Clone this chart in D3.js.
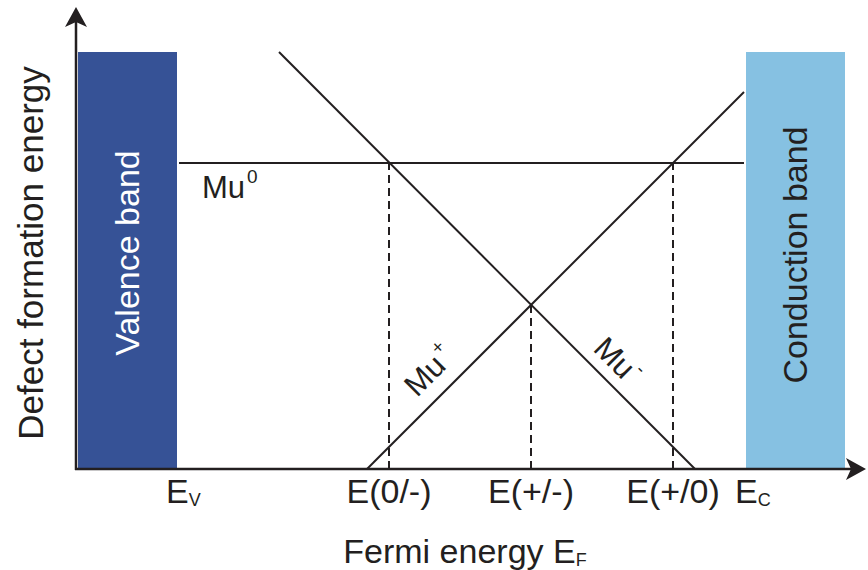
<!DOCTYPE html>
<html>
<head>
<meta charset="utf-8">
<script src="https://cdn.jsdelivr.net/npm/d3@7"></script>
<style>
  html, body { margin: 0; padding: 0; background: #fff; }
  svg { display: block; font-family: "Liberation Sans", Arial, Helvetica, sans-serif; }
</style>
</head>
<body>
<svg id="chart" width="868" height="570"></svg>
<script>
// Energies in arbitrary units; Fermi level measured from the valence band maximum.
const bandNames = ["Valence band", "Conduction band"];
const bandFrom  = [-0.99, 5.69];
const bandTo    = [0.00, 6.68];
const bandTop   = 4.17;

// Formation-energy lines of the muonium charge states (start / end points).
const stateNames = ["Mu", "Mu", "Mu"];
const stateSup   = ["0", "+", "-"];
const stateEF    = [[0.02, 5.67], [1.90, 5.67], [1.02, 5.18]];
const stateE     = [[3.06, 3.06], [0.00, 3.77], [4.17, 0.00]];

// Charge transition levels (crossings of the lines above).
const levelNames = ["E(0/-)", "E(+/-)", "E(+/0)"];
const levelEF    = [2.12, 3.54, 4.96];
const levelE     = [3.06, 1.64, 3.06];

// Band edge tick labels.
const edgeMain = ["E", "E"];
const edgeSub  = ["V", "C"];
const edgeEF   = [0.00, 5.69];

const ink = "#231f20";
const svg = d3.select("#chart");

const x = d3.scaleLinear().domain([-1.01, 6.89]).range([76, 866]);
const y = d3.scaleLinear().domain([0, 4.62]).range([469, 7]);

// Bands
const bandColors = ["#365296", "#86c1e2"];
const bandText = ["#ffffff", ink];
svg.append("g").selectAll("rect")
  .data(bandNames)
  .join("rect")
  .attr("x", (d, i) => x(bandFrom[i]))
  .attr("y", y(bandTop))
  .attr("width", (d, i) => x(bandTo[i]) - x(bandFrom[i]))
  .attr("height", y(0) - y(bandTop))
  .attr("fill", (d, i) => bandColors[i]);

svg.append("g").selectAll("text")
  .data(bandNames)
  .join("text")
  .attr("transform", (d, i) => {
    const cx = (x(bandFrom[i]) + x(bandTo[i])) / 2 + 11;
    const cy = i === 0 ? 253 : 255;
    return `translate(${cx},${cy}) rotate(-90)`;
  })
  .attr("text-anchor", "middle")
  .attr("font-size", 34)
  .attr("fill", (d, i) => bandText[i])
  .text(d => d);

// Dashed drop lines at the transition levels
svg.append("g").selectAll("line")
  .data(levelNames)
  .join("line")
  .attr("x1", (d, i) => x(levelEF[i]))
  .attr("x2", (d, i) => x(levelEF[i]))
  .attr("y1", y(0))
  .attr("y2", (d, i) => y(levelE[i]))
  .attr("stroke", ink)
  .attr("stroke-width", 2)
  .attr("stroke-dasharray", "8,5");

// Formation energy lines
svg.append("g").selectAll("line")
  .data(stateNames)
  .join("line")
  .attr("x1", (d, i) => x(stateEF[i][0]))
  .attr("y1", (d, i) => y(stateE[i][0]))
  .attr("x2", (d, i) => x(stateEF[i][1]))
  .attr("y2", (d, i) => y(stateE[i][1]))
  .attr("stroke", ink)
  .attr("stroke-width", 2);

// Charge-state labels
function stateLabel(i, px, py, angle) {
  const t = svg.append("text")
    .attr("transform", `translate(${px},${py}) rotate(${angle})`)
    .attr("font-size", 31)
    .attr("fill", ink);
  t.append("tspan").text(stateNames[i]);
  t.append("tspan").attr("font-size", 19).attr("dy", -15).attr("dx", 2).text(stateSup[i]);
}
stateLabel(0, 202, 198, 0);
stateLabel(1, 417, 398, -45);
stateLabel(2, 592, 350, 45);

// Axes with arrowheads
const ax0 = x.range()[0], ay0 = y.range()[0];
const axTip = x.range()[1], ayTip = y.range()[1];
svg.append("line")
  .attr("x1", ax0).attr("y1", ay0 + 1)
  .attr("x2", ax0).attr("y2", ayTip + 12)
  .attr("stroke", ink).attr("stroke-width", 2.5);
svg.append("line")
  .attr("x1", ax0 - 1).attr("y1", ay0)
  .attr("x2", axTip - 12).attr("y2", ay0)
  .attr("stroke", ink).attr("stroke-width", 2.5);
svg.append("path")
  .attr("d", `M${ax0},${ayTip} L${ax0 + 11},${ayTip + 20} L${ax0},${ayTip + 15} L${ax0 - 11},${ayTip + 20} Z`)
  .attr("fill", ink);
svg.append("path")
  .attr("d", `M${axTip},${ay0} L${axTip - 20},${ay0 - 11} L${axTip - 15},${ay0} L${axTip - 20},${ay0 + 11} Z`)
  .attr("fill", ink);

// Tick labels: transition levels
svg.append("g").selectAll("text")
  .data(levelNames)
  .join("text")
  .attr("x", (d, i) => x(levelEF[i]))
  .attr("y", 503)
  .attr("text-anchor", "middle")
  .attr("font-size", 34)
  .attr("fill", ink)
  .text(d => d);

// Tick labels: band edges
edgeMain.forEach((m, i) => {
  const t = svg.append("text")
    .attr("x", x(edgeEF[i]) - 11)
    .attr("y", 503)
    .attr("font-size", 34)
    .attr("fill", ink);
  t.append("tspan").text(m);
  t.append("tspan").attr("font-size", 18).attr("dy", 3).text(edgeSub[i]);
});

// Axis titles
const xt = svg.append("text")
  .attr("x", 465).attr("y", 563)
  .attr("text-anchor", "middle")
  .attr("font-size", 34)
  .attr("fill", ink);
xt.append("tspan").text("Fermi energy E");
xt.append("tspan").attr("font-size", 18).attr("dy", 3).text("F");

svg.append("text")
  .attr("transform", "translate(43,253) rotate(-90)")
  .attr("text-anchor", "middle")
  .attr("font-size", 35)
  .attr("fill", ink)
  .text("Defect formation energy");
</script>
</body>
</html>
